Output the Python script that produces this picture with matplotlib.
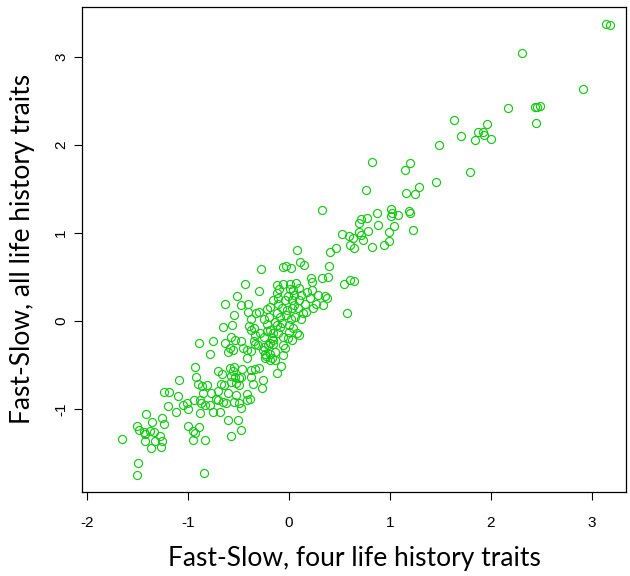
import matplotlib
matplotlib.use("Agg")
import matplotlib.pyplot as plt
import numpy as np

# Fast-slow scores: four life-history traits (x) vs all traits (y)
fs_four = [
    3.14, 3.18, 2.31, 2.91, 2.17, 2.44, 2.46, 2.49, 2.45, 1.63,
    1.96, 1.87, 1.92, 1.93, 1.70, 1.84, 2.00, 1.49, 1.79, 1.46,
    0.82, 1.20, 1.15, 1.29, 0.76, 1.16, 1.25, 1.01, 0.87, 1.02,
    1.08, 1.01, 1.19, 1.20, 0.71, 0.77, 0.69, 0.88, 1.04, 1.23,
    0.99, 0.78, 0.69, 0.53, 0.59, 0.63, 0.71, 0.73, 0.99, 0.94,
    0.82, 0.60, 0.64, 0.47, 0.41, 0.40, 0.33, 0.08, 0.11, 0.15,
    -0.28, -0.06, -0.03, 0.02, 0.22, 0.33, 0.39, 0.60, 0.64, 0.23,
    0.55, -0.12, -0.06, 0.01, 0.07, -0.10, 0.01, 0.04, 0.10, 0.23,
    0.29, 0.36, 0.38, 0.58, -0.16, -0.11, -0.04, 0.03, 0.10, 0.16,
    0.21, 0.27, 0.34, 0.24, -0.19, -0.11, -0.07, -0.02, 0.03, 0.09,
    0.14, 0.17, 0.12, -0.12, -0.09, -0.14, -0.12, 0.04, 0.08, 0.10,
    -0.19, -0.16, -0.11, -0.06, -0.01, 0.03, -0.16, -0.19, -0.06, -0.04,
    -0.14, -0.19, -0.06, -0.14, -0.19, -0.08, -0.43, -0.30, -0.51, -0.63,
    -0.47, -0.41, -0.22, -0.54, -0.41, -0.33, -0.30, -0.25, -0.38, -0.56,
    -0.65, -0.40, -0.35, -0.38, -0.22, -0.34, -0.29, -0.25, -0.17, -0.57,
    -0.75, -0.89, -0.63, -0.53, -0.47, -0.58, -0.55, -0.60, -0.45, -0.42,
    -0.38, -0.34, -0.35, -0.31, -0.78, -0.42, -0.26, -0.24, -0.23, -0.17,
    -0.93, -0.70, -0.66, -0.58, -0.54, -0.46, -0.38, -0.34, -0.30, -0.57,
    -0.53, -0.49, -0.47, -0.38, -0.92, -0.12, -0.25, -0.21, -0.16, -0.24,
    -0.26, -0.27, -0.55, -0.36, -0.81, -0.90, -0.86, -0.67, -0.64, -0.57,
    -0.52, -0.49, -0.85, -0.77, -0.70, -0.60, -0.52, -0.42, -0.39, -0.72,
    -0.70, -0.65, -0.54, -0.42, -0.49, -0.62, -0.87, -0.83, -0.88, -0.75,
    -0.68, -0.47, -0.60, -0.50, -0.89, -0.47, -0.57, -0.83, -0.84, -0.88,
    -0.78, -1.09, -1.24, -1.19, -1.10, -1.20, -1.05, -1.01, -1.00, -1.12,
    -0.94, -1.42, -1.26, -1.36, -1.24, -1.50, -1.48, -1.44, -1.43, -1.38,
    -1.34, -1.28, -1.26, -1.43, -1.33, -1.65, -1.37, -1.27, -1.00, -0.95,
    -0.93, -0.95, -1.49, -1.50,
    -0.07, 0.00, 0.02, -0.03, 0.06, -0.09, 0.00, -0.12, 0.05, -0.20,
    -0.22, 0.12, 0.18, 0.05, -0.01,
]
fs_all = [
    3.38, 3.37, 3.05, 2.64, 2.42, 2.43, 2.43, 2.44, 2.25, 2.29,
    2.24, 2.15, 2.15, 2.12, 2.10, 2.06, 2.07, 2.00, 1.69, 1.58,
    1.81, 1.80, 1.72, 1.52, 1.49, 1.46, 1.44, 1.27, 1.23, 1.23,
    1.21, 1.19, 1.25, 1.23, 1.16, 1.17, 1.11, 1.09, 1.08, 1.04,
    1.01, 1.02, 1.01, 0.99, 0.97, 0.95, 0.98, 0.92, 0.91, 0.86,
    0.84, 0.87, 0.83, 0.83, 0.78, 0.63, 1.26, 0.81, 0.67, 0.64,
    0.59, 0.62, 0.63, 0.60, 0.49, 0.49, 0.50, 0.47, 0.46, 0.44,
    0.42, 0.41, 0.42, 0.42, 0.43, 0.36, 0.37, 0.35, 0.38, 0.35,
    0.30, 0.28, 0.26, 0.09, 0.24, 0.26, 0.24, 0.24, 0.24, 0.20,
    0.26, 0.20, 0.18, 0.15, 0.16, 0.20, 0.15, 0.13, 0.15, 0.15,
    0.09, 0.10, 0.02, 0.09, 0.05, -0.01, -0.04, -0.08, -0.14, -0.16,
    -0.10, -0.14, -0.14, -0.18, -0.19, -0.21, -0.21, -0.25, -0.27, -0.30,
    -0.35, -0.37, -0.38, -0.44, -0.44, -0.51, 0.42, 0.34, 0.28, 0.19,
    0.18, 0.19, 0.14, 0.07, 0.10, 0.09, 0.10, 0.03, 0.02, -0.04,
    -0.07, -0.06, -0.08, -0.10, -0.11, -0.16, -0.14, -0.18, -0.19, -0.18,
    -0.22, -0.25, -0.25, -0.21, -0.23, -0.31, -0.33, -0.35, -0.31, -0.33,
    -0.34, -0.26, -0.23, -0.27, -0.37, -0.42, -0.33, -0.37, -0.40, -0.42,
    -0.52, -0.57, -0.60, -0.53, -0.52, -0.54, -0.55, -0.54, -0.53, -0.62,
    -0.63, -0.65, -0.63, -0.63, -0.64, -0.59, -0.29, -0.27, -0.26, -0.42,
    -0.67, -0.76, -0.57, -0.71, -0.73, -0.71, -0.74, -0.71, -0.73, -0.69,
    -0.70, -0.73, -0.82, -0.82, -0.79, -0.82, -0.84, -0.83, -0.89, -0.89,
    -0.90, -0.92, -0.92, -0.90, -0.93, -0.93, -0.93, -0.95, -1.04, -1.03,
    -1.03, -0.99, -1.12, -1.12, -1.20, -1.24, -1.30, -1.35, -1.73, -0.90,
    -0.95, -0.67, -0.81, -0.81, -0.85, -0.96, -0.95, -0.93, -1.00, -1.03,
    -0.90, -1.05, -1.10, -1.15, -1.17, -1.19, -1.24, -1.26, -1.28, -1.25,
    -1.26, -1.31, -1.36, -1.36, -1.36, -1.34, -1.44, -1.43, -1.19, -1.25,
    -1.27, -1.35, -1.61, -1.75,
    -0.02, -0.04, 0.03, 0.07, 0.05, -0.07, -0.12, 0.32, 0.30, 0.05,
    -0.03, 0.30, 0.33, 0.18, 0.28,
]

x_ticks = [-2, -1, 0, 1, 2, 3]
y_ticks = [-1, 0, 1, 2, 3]

fig = plt.figure(figsize=(6.3, 5.76), dpi=100)
ax = fig.add_axes([0.130, 0.146, 0.864, 0.842])

ax.plot(fs_four, fs_all, linestyle="none", marker="o", markersize=5.8,
        markerfacecolor="none", markeredgecolor="#14c814", markeredgewidth=0.85)

ax.set_xlim(-2.05, 3.34)
ax.set_ylim(-1.94, 3.57)
ax.set_xticks(x_ticks)
ax.set_yticks(y_ticks)
ax.set_xticklabels([str(v) for v in x_ticks], fontfamily="Liberation Sans", fontsize=11)
ax.set_yticklabels([str(v) for v in y_ticks], fontfamily="Liberation Sans", fontsize=11,
                   rotation=90, va="center")
ax.tick_params(axis="x", direction="out", length=6, width=0.8, pad=11, color="black")
ax.tick_params(axis="y", direction="out", length=6, width=0.8, pad=4, color="black")

for spine in ax.spines.values():
    spine.set_linewidth(0.9)
    spine.set_color("black")

ax.set_xlabel("Fast-Slow, four life history traits", fontfamily="Lato", fontsize=19, labelpad=12)
ax.set_ylabel("Fast-Slow, all life history traits", fontfamily="Lato", fontsize=19, labelpad=14)

fig.savefig("out.png", dpi=100)
